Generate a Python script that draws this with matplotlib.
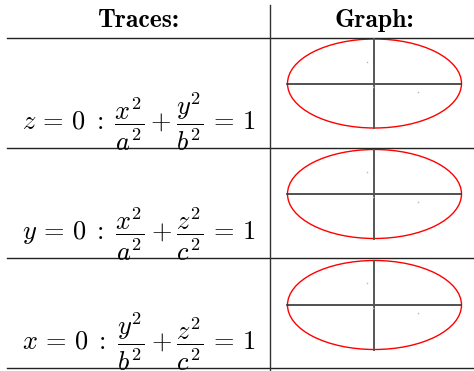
"""Table of ellipse traces with small graphs."""

import os

import matplotlib
import matplotlib.pyplot as plt
from matplotlib.font_manager import FontProperties
from matplotlib.patches import Ellipse

plt.rcParams["mathtext.fontset"] = "cm"

# Table content
headers = ["Traces:", "Graph:"]
traces = [
    r"$z\,=\,0\;:\;\dfrac{x^2}{a^2}\:+\:\dfrac{y^2}{b^2}\,=\,1$",
    r"$y\,=\,0\;:\;\dfrac{x^2}{a^2}\:+\:\dfrac{z^2}{c^2}\,=\,1$",
    r"$x\,=\,0\;:\;\dfrac{y^2}{b^2}\:+\:\dfrac{z^2}{c^2}\,=\,1$",
]

# Ellipse sizes (full width / height in pixels) and centres per row
ellipse_cx = [374.5, 374.5, 374.5]
ellipse_cy = [83.5, 194, 305]
ellipse_w = [174, 174, 174]
ellipse_h = [89, 89, 89]

# faint stray dots inside each graph (offsets from centre)
dot_dx = [-7, 44, -1]
dot_dy = [-22, 8, 3]

# Table grid
row_lines = [38, 148, 258, 368]
col_line = 270
table_left = 7
table_right = 474

bold_cm = FontProperties(
    fname=os.path.join(matplotlib.get_data_path(), "fonts", "ttf", "cmb10.ttf"),
    size=18.5,
)

fig = plt.figure(figsize=(4.74, 3.71), dpi=100)
ax = fig.add_axes([0, 0, 1, 1])
ax.set_xlim(0, 474)
ax.set_ylim(371, 0)
ax.axis("off")

# grid lines
for y in row_lines:
    ax.plot([table_left, table_right], [y, y], color="#222222", lw=1.0)
ax.plot([col_line, col_line], [5, 371], color="#333333", lw=1.0)

# headers
ax.text(138.5, 27, headers[0], ha="center", va="baseline", fontproperties=bold_cm)
ax.text(374, 27, headers[1], ha="center", va="baseline", fontproperties=bold_cm)

# equations
for i, eq in enumerate(traces):
    ax.text(22, row_lines[i + 1] - 18, eq, ha="left", va="baseline", fontsize=19)

# graphs
for i in range(len(traces)):
    cx, cy, w, h = ellipse_cx[i], ellipse_cy[i], ellipse_w[i], ellipse_h[i]
    ax.plot([cx - w / 2, cx + w / 2], [cy, cy], color="#333333", lw=1.2)
    ax.plot([cx, cx], [cy - h / 2, cy + h / 2], color="#555555", lw=1.4)
    ax.add_patch(Ellipse((cx, cy), w, h, fill=False, edgecolor="red", lw=1.0))
    ax.plot([cx + dx for dx in dot_dx], [cy + dy for dy in dot_dy], "o",
            color="#bbbbbb", ms=1.2, mec="none")

fig.savefig("out.png", dpi=100)
